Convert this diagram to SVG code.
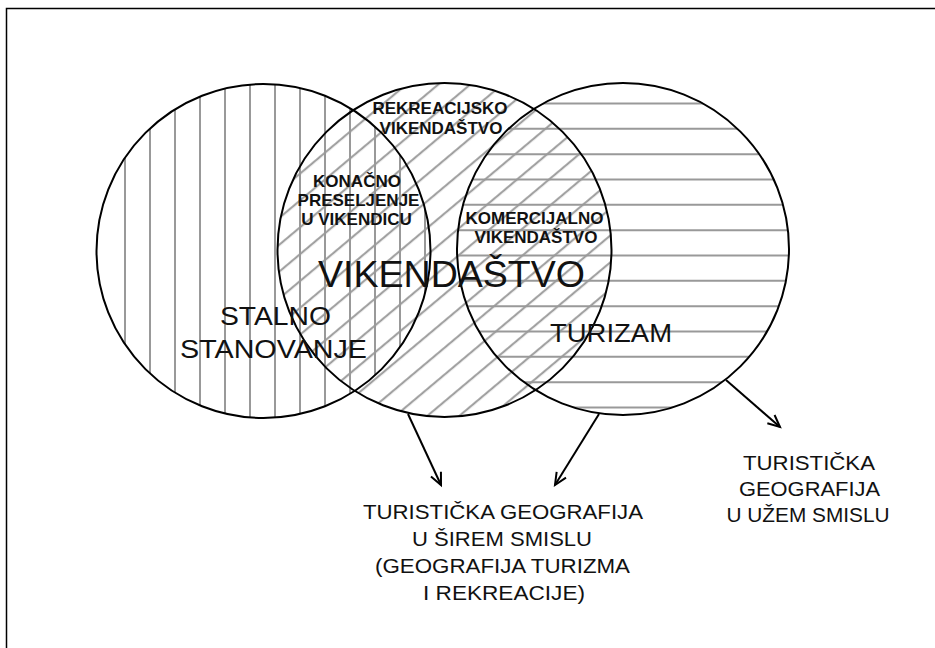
<svg xmlns="http://www.w3.org/2000/svg" width="935" height="648" viewBox="0 0 935 648">
<style>
.circ{fill:none;stroke:#000;stroke-width:2}
.hatch{stroke:#999;stroke-width:2;fill:none}
.bold{font-family:"Liberation Sans",Arial,sans-serif;font-weight:bold;font-size:17px;fill:#111;text-anchor:middle}
.lab{font-family:"Liberation Sans",Arial,sans-serif;fill:#111;text-anchor:middle}
.big{font-size:36px}
.mid{font-size:26px}
.sm{font-size:20px}
.arrow{stroke:#000;stroke-width:2;fill:none;marker-end:url(#ah)}
</style>
<defs>
<clipPath id="cL"><circle cx="263.5" cy="251" r="167"/></clipPath>
<clipPath id="cM"><circle cx="444.5" cy="250" r="167"/></clipPath>
<clipPath id="cR"><circle cx="623" cy="249" r="166"/></clipPath>
<pattern id="diag" patternUnits="userSpaceOnUse" width="20.57" height="20" patternTransform="rotate(50) translate(7.36 0)"><line x1="10" y1="-5" x2="10" y2="25" class="hatch"/></pattern>
<marker id="ah" markerUnits="userSpaceOnUse" markerWidth="18" markerHeight="18" viewBox="-15 -9 18 18" refX="0" refY="0" orient="auto"><path d="M-12,-5.5 L0,0 L-12,5.5" fill="none" stroke="#000" stroke-width="2"/></marker>
</defs>
<rect width="935" height="648" fill="#fff"/>
<path d="M6.5 648V8.5H935" stroke="#000" stroke-width="1.5" fill="none"/>

<g id="node-stalno-stanovanje">
<path class="hatch" clip-path="url(#cL)" d="M125 80V425M150 80V425M175 80V425M200 80V425M225 80V425M250 80V425M275 80V425M300 80V425M325 80V425M350 80V425M375 80V425M400 80V425M425 80V425"/>
</g>
<g id="node-vikendastvo">
<rect x="270" y="75" width="350" height="350" fill="url(#diag)" clip-path="url(#cM)"/>
</g>
<g id="node-turizam">
<path class="hatch" clip-path="url(#cR)" d="M450 103.5H795M450 128.8H795M450 154.2H795M450 179.5H795M450 204.8H795M450 230.2H795M450 255.5H795M450 280.8H795M450 306.2H795M450 331.5H795M450 356.8H795M450 382.2H795M450 407.5H795"/>
</g>
<g id="circles">
<circle class="circ" cx="263.5" cy="251" r="167"/>
<circle class="circ" cx="444.5" cy="250" r="167"/>
<circle class="circ" cx="623" cy="249" r="166"/>
</g>

<g id="labels-bold">
<text class="bold" x="440" y="114">REKREACIJSKO</text>
<text class="bold" x="441" y="134">VIKENDAŠTVO</text>
<text class="bold" x="357" y="186.5">KONAČNO</text>
<text class="bold" x="358.5" y="205.5">PRESELJENJE</text>
<text class="bold" x="356.5" y="225">U VIKENDICU</text>
<text class="bold" x="534.5" y="224">KOMERCIJALNO</text>
<text class="bold" x="536" y="242.5">VIKENDAŠTVO</text>
</g>
<g id="labels-main">
<text class="lab big" x="451.5" y="287" textLength="267" lengthAdjust="spacingAndGlyphs">VIKENDAŠTVO</text>
<text class="lab mid" x="275.5" y="325" textLength="111" lengthAdjust="spacingAndGlyphs">STALNO</text>
<text class="lab mid" x="273.5" y="358" textLength="187" lengthAdjust="spacingAndGlyphs">STANOVANJE</text>
<text class="lab mid" x="611" y="342" textLength="122" lengthAdjust="spacingAndGlyphs">TURIZAM</text>
</g>

<g id="connectors">
<path class="arrow" d="M408 414L441 485"/>
<path class="arrow" d="M599 414L555 485"/>
<path class="arrow" d="M726 380L780 427"/>
</g>

<g id="node-siri-smisao">
<text class="lab sm" x="503" y="518.5" textLength="280" lengthAdjust="spacingAndGlyphs">TURISTIČKA GEOGRAFIJA</text>
<text class="lab sm" x="502" y="546" textLength="180" lengthAdjust="spacingAndGlyphs">U ŠIREM SMISLU</text>
<text class="lab sm" x="502.5" y="573" textLength="255" lengthAdjust="spacingAndGlyphs">(GEOGRAFIJA TURIZMA</text>
<text class="lab sm" x="504" y="600" textLength="162" lengthAdjust="spacingAndGlyphs">I REKREACIJE)</text>
</g>
<g id="node-uzi-smisao">
<text class="lab sm" x="809" y="470" textLength="132" lengthAdjust="spacingAndGlyphs">TURISTIČKA</text>
<text class="lab sm" x="809.5" y="496" textLength="141" lengthAdjust="spacingAndGlyphs">GEOGRAFIJA</text>
<text class="lab sm" x="808" y="522" textLength="163" lengthAdjust="spacingAndGlyphs">U UŽEM SMISLU</text>
</g>
</svg>
